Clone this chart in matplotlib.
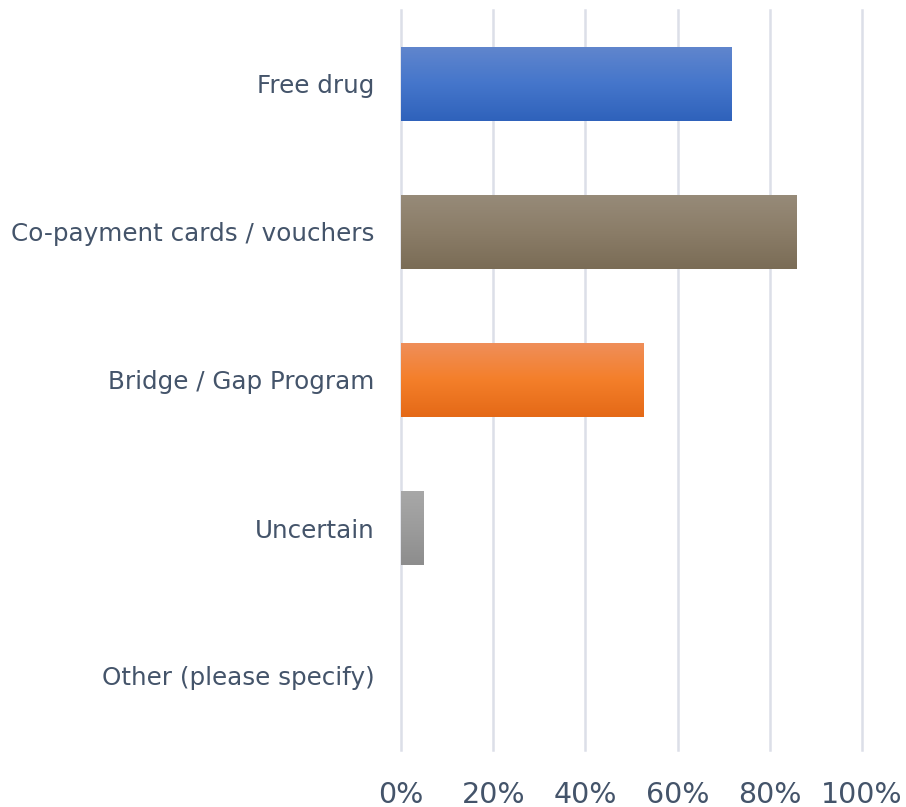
import numpy as np
import matplotlib
matplotlib.use("Agg")
import matplotlib.pyplot as plt
from matplotlib.colors import LinearSegmentedColormap

categories = ["Free drug", "Co-payment cards / vouchers", "Bridge / Gap Program",
              "Uncertain", "Other (please specify)"]
values = [71.6, 85.9, 52.5, 4.8, 0.0]
x_ticks = [0, 20, 40, 60, 80, 100]
x_tick_labels = ["0%", "20%", "40%", "60%", "80%", "100%"]

# top / middle / bottom colours of each bar's vertical gradient
gradients = [
    ["#6186CD", "#4576CB", "#2F62BB"],
    ["#978B79", "#8B7D68", "#7A6C56"],
    ["#EF8F5B", "#F47F2A", "#E46917"],
    ["#A8A8A8", "#9C9C9C", "#8D8D8D"],
    ["#A8A8A8", "#9C9C9C", "#8D8D8D"],
]

text_color = "#44546A"
grid_color = "#DCDFE8"

fig = plt.figure(figsize=(9.06, 8.07), dpi=100)
ax = fig.add_axes([401 / 906, 1 - 750 / 807, (862 - 401) / 906, 740 / 807])

y = np.arange(len(categories))
bars = ax.barh(y, values, height=0.505, color="none", edgecolor="none", zorder=2)

grad = np.linspace(0, 1, 256).reshape(-1, 1)
for bar, cols in zip(bars, gradients):
    w = bar.get_width()
    if w <= 0:
        continue
    x0, y0, h = bar.get_x(), bar.get_y(), bar.get_height()
    cmap = LinearSegmentedColormap.from_list("g", cols)
    # inverted y axis: row 0 of the image sits at y0 (top of the bar)
    im = ax.imshow(grad, cmap=cmap, aspect="auto", interpolation="bicubic",
                   extent=(x0, x0 + w, y0 + h, y0), zorder=2, origin="upper")
    im.set_clip_path(bar)

ax.set_xlim(0, 100)
ax.set_ylim(len(categories) - 0.5, -0.5)
ax.set_yticks(y)
ax.set_yticklabels(categories, fontsize=17.7, color=text_color)
ax.set_xticks(x_ticks)
ax.set_xticklabels(x_tick_labels, fontsize=20.5, color=text_color)
ax.tick_params(axis="both", length=0)
ax.tick_params(axis="y", pad=19)
ax.tick_params(axis="x", pad=22)

ax.grid(axis="x", color=grid_color, linewidth=1.8, zorder=0)
for gl in ax.get_xgridlines():
    gl.set_clip_on(False)
ax.set_axisbelow(True)
for s in ax.spines.values():
    s.set_visible(False)

fig.savefig("out.png", dpi=100, facecolor="white")
